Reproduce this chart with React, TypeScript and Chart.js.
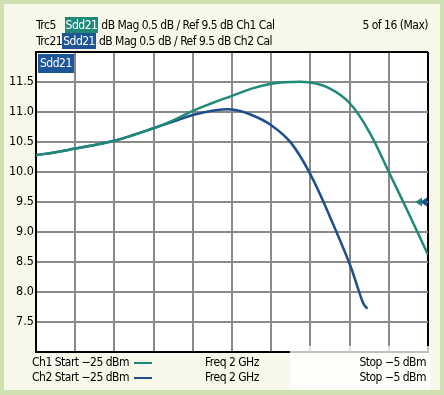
import React, { useEffect, useRef } from "react";
import { Chart, registerables } from "chart.js";

Chart.register(...registerables);

// x positions in graticule divisions (0..10), sweep from -25 dBm to -5 dBm
const ch1X = [0, 0.5, 1, 1.5, 2, 2.5, 3, 3.5, 4, 4.5, 5, 5.5, 6, 6.5, 7, 7.5, 8, 8.5, 9, 9.5, 10];
const ch1Y = [10.28, 10.33, 10.39, 10.45, 10.52, 10.62, 10.73, 10.86, 11.02, 11.15, 11.27, 11.39, 11.47, 11.5, 11.49, 11.39, 11.15, 10.67, 10.0, 9.32, 8.62];
const ch2X = [0, 0.5, 1, 1.5, 2, 2.5, 3, 3.5, 4, 4.5, 5, 5.5, 6, 6.5, 7, 7.5, 8, 8.25, 8.35, 8.45];
const ch2Y = [10.28, 10.33, 10.39, 10.45, 10.52, 10.62, 10.73, 10.84, 10.95, 11.02, 11.04, 10.95, 10.78, 10.49, 9.96, 9.25, 8.47, 7.99, 7.81, 7.72];
const yTicks = [7.5, 8.0, 8.5, 9.0, 9.5, 10.0, 10.5, 11.0, 11.5];
const yMin = 7.0;
const yMax = 12.0;
const refLevel = 9.5;

const TEAL = "#1f8a78";
const BLUE = "#1d4f8c";
const FONT = "'DejaVu Sans Condensed', 'Liberation Sans Narrow', sans-serif";

export default function App() {
  const ref = useRef<HTMLCanvasElement | null>(null);

  useEffect(() => {
    const canvas = ref.current;
    if (!canvas) return;
    const bgPlugin = {
      id: "plotBg",
      beforeDraw(chart: any) {
        const { ctx, chartArea } = chart;
        ctx.save();
        ctx.fillStyle = "#ffffff";
        ctx.fillRect(chartArea.left, chartArea.top, chartArea.right - chartArea.left, chartArea.bottom - chartArea.top);
        ctx.restore();
      },
      afterDraw(chart: any) {
        const { ctx, chartArea } = chart;
        const y = chart.scales.y.getPixelForValue(refLevel);
        const r = chartArea.right;
        const tri = (tip: number, color: string) => {
          ctx.beginPath();
          ctx.moveTo(tip, y);
          ctx.lineTo(tip + 7, y - 4.5);
          ctx.lineTo(tip + 7, y + 4.5);
          ctx.closePath();
          ctx.fillStyle = color;
          ctx.fill();
        };
        ctx.save();
        tri(r - 13, TEAL);
        tri(r - 8, BLUE);
        ctx.restore();
      },
    };
    const chart = new Chart(canvas, {
      type: "line",
      data: {
        datasets: [
          {
            label: "Ch1 Sdd21",
            data: ch1X.map((x, i) => ({ x, y: ch1Y[i] })),
            borderColor: TEAL,
            borderWidth: 2.5,
            pointRadius: 0,
            tension: 0.4,
            fill: false,
          },
          {
            label: "Ch2 Sdd21",
            data: ch2X.map((x, i) => ({ x, y: ch2Y[i] })),
            borderColor: BLUE,
            borderWidth: 2.5,
            pointRadius: 0,
            tension: 0.4,
            fill: false,
          },
        ],
      },
      options: {
        animation: false,
        responsive: false,
        maintainAspectRatio: false,
        layout: { padding: { left: 0, top: 52, right: 16, bottom: 43 } },
        plugins: { legend: { display: false }, tooltip: { enabled: false } },
        scales: {
          x: {
            type: "linear",
            min: 0,
            max: 10,
            ticks: { display: false, stepSize: 1 },
            grid: {
              drawTicks: false,
              lineWidth: 2,
              color: (c: any) => (c.tick && (c.tick.value === 10 || c.tick.value === 0) ? "#000" : "#8a8a8a"),
            },
            border: { display: true, color: "#000", width: 2 },
            afterFit: (s: any) => {
              s.height = 0;
            },
          },
          y: {
            type: "linear",
            min: yMin,
            max: yMax,
            afterBuildTicks: (s: any) => {
              s.ticks = [yMin, ...yTicks, yMax].map((v) => ({ value: v }));
            },
            ticks: {
              padding: 2,
              color: "#000",
              font: { family: FONT, size: 12.5 },
              callback: (v: any) => (yTicks.includes(Number(v)) ? Number(v).toFixed(1) : ""),
            },
            grid: {
              drawTicks: false,
              lineWidth: 2,
              color: (c: any) => (c.tick && (c.tick.value === yMax || c.tick.value === yMin) ? "#000" : "#8a8a8a"),
            },
            border: { display: true, color: "#000", width: 2 },
            afterFit: (s: any) => {
              s.width = 36;
            },
          },
        },
      },
      plugins: [bgPlugin],
    } as any);
    return () => chart.destroy();
  }, []);

  const txt: React.CSSProperties = {
    position: "absolute",
    fontFamily: FONT,
    fontSize: 12,
    letterSpacing: "-0.5px",
    color: "#000",
    whiteSpace: "nowrap",
    lineHeight: "16px",
  };
  const tag = (bg: string): React.CSSProperties => ({
    background: bg,
    color: "#fff",
    padding: "0 1px",
    display: "inline-block",
    lineHeight: "16px",
  });

  return (
    <div style={{ position: "absolute", left: 0, top: 0, width: 444, height: 395, background: "#cfe1b0" }}>
      <div style={{ position: "absolute", left: 4, top: 4, right: 4, bottom: 5, background: "#f7f8e9" }} />
      <canvas ref={ref} width={444} height={395} style={{ position: "absolute", left: 0, top: 0, width: 444, height: 395 }} />
      <div style={{ ...txt, left: 36, top: 17 }}>
        Trc5&nbsp;&nbsp;&nbsp;<span style={tag(TEAL)}>Sdd21</span> dB Mag 0.5 dB / Ref 9.5 dB Ch1 Cal
      </div>
      <div style={{ ...txt, left: 36, top: 33 }}>
        Trc21<span style={tag("#1e5597")}>Sdd21</span> dB Mag 0.5 dB / Ref 9.5 dB Ch2 Cal
      </div>
      <div style={{ ...txt, right: 16, top: 17 }}>5 of 16 (Max)</div>
      <div style={{ ...txt, left: 38, top: 54, background: "#1e5597", color: "#fff", padding: "1px 2px", lineHeight: "17px" }}>Sdd21</div>
      <div style={{ position: "absolute", left: 290, top: 346, width: 140, height: 44, background: "rgba(255,255,255,0.75)" }} />
      <div style={{ ...txt, left: 32, top: 354 }}>
        Ch1 Start −25 dBm{" "}
        <span style={{ display: "inline-block", width: 18, height: 2, background: TEAL, verticalAlign: "middle", marginLeft: 2 }} />
      </div>
      <div style={{ ...txt, left: 32, top: 369 }}>
        Ch2 Start −25 dBm{" "}
        <span style={{ display: "inline-block", width: 18, height: 2, background: BLUE, verticalAlign: "middle", marginLeft: 2 }} />
      </div>
      <div style={{ ...txt, left: 205, top: 354 }}>Freq 2 GHz</div>
      <div style={{ ...txt, left: 205, top: 369 }}>Freq 2 GHz</div>
      <div style={{ ...txt, right: 18, top: 354 }}>Stop −5 dBm</div>
      <div style={{ ...txt, right: 18, top: 369 }}>Stop −5 dBm</div>
    </div>
  );
}
